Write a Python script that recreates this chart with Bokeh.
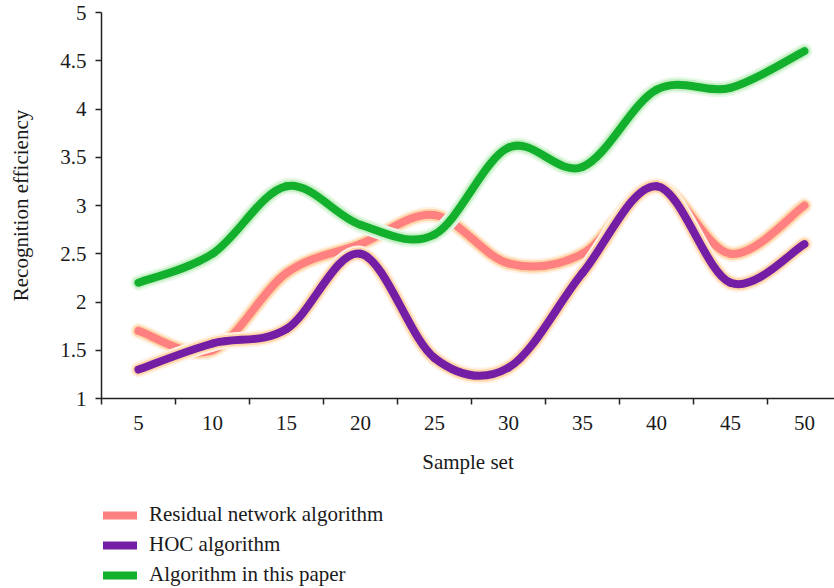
from bokeh.plotting import figure
from bokeh.layouts import column
from bokeh.models import Range1d, FixedTicker, Legend, LegendItem
from bokeh.embed import file_html
from bokeh.resources import INLINE

# ---- data ----
sample_set = [5, 10, 15, 20, 25, 30, 35, 40, 45, 50]
residual_network = [1.7, 1.5, 2.3, 2.6, 2.9, 2.4, 2.5, 3.2, 2.5, 3.0]
hoc_algorithm = [1.3, 1.57, 1.72, 2.5, 1.42, 1.32, 2.3, 3.2, 2.2, 2.6]
this_paper = [2.2, 2.5, 3.2, 2.8, 2.7, 3.6, 3.4, 4.2, 4.22, 4.6]
series_names = ["Residual network algorithm", "HOC algorithm", "Algorithm in this paper"]
y_ticks = [1, 1.5, 2, 2.5, 3, 3.5, 4, 4.5, 5]
y_tick_labels = ["1", "1.5", "2", "2.5", "3", "3.5", "4", "4.5", "5"]
x_tick_labels = ["5", "10", "15", "20", "25", "30", "35", "40", "45", "50"]

FONT = "Liberation Serif"
FS = "21px"


def smooth_segments(xs, ys):
    """Catmull-Rom style Bezier control points for a smoothed line."""
    n = len(xs)
    d = dict(x0=[], y0=[], x1=[], y1=[], cx0=[], cy0=[], cx1=[], cy1=[])
    for i in range(n - 1):
        xp, yp = (xs[i - 1], ys[i - 1]) if i > 0 else (xs[i], ys[i])
        xn, yn = (xs[i + 2], ys[i + 2]) if i + 2 < n else (xs[i + 1], ys[i + 1])
        d["x0"].append(xs[i]); d["y0"].append(ys[i])
        d["x1"].append(xs[i + 1]); d["y1"].append(ys[i + 1])
        d["cx0"].append(xs[i] + (xs[i + 1] - xp) / 6.0)
        d["cy0"].append(ys[i] + (ys[i + 1] - yp) / 6.0)
        d["cx1"].append(xs[i + 1] - (xn - xs[i]) / 6.0)
        d["cy1"].append(ys[i + 1] - (yn - ys[i]) / 6.0)
    return d


step = sample_set[1] - sample_set[0]
p = figure(width=834, height=482,
           x_range=Range1d(sample_set[0] - step / 2, sample_set[-1] + 0.406 * step),
           y_range=Range1d(y_ticks[0], y_ticks[-1]),
           output_backend="svg", toolbar_location=None,
           min_border_top=12, min_border_left=101, min_border_right=0,
           min_border_bottom=84)
p.outline_line_color = None
p.xgrid.grid_line_color = None
p.ygrid.grid_line_color = None
p.background_fill_color = "white"
p.border_fill_color = "white"

# axes
xa = p.xaxis[0]
xa.ticker = FixedTicker(ticks=sample_set,
                        minor_ticks=[v - step / 2 for v in sample_set] + [sample_set[-1] + step / 2])
xa.major_label_overrides = {v: lab for v, lab in zip(sample_set, x_tick_labels)}
xa.major_tick_out = 0
xa.major_tick_in = 0
xa.minor_tick_out = 6
xa.minor_tick_in = 0
xa.minor_tick_line_color = "#222222"
xa.minor_tick_line_width = 1.5
xa.axis_line_color = "#222222"
xa.axis_line_width = 1.5
xa.major_label_standoff = 11
xa.axis_label = "Sample set"
xa.axis_label_standoff = 17
xa.axis_label_text_font_style = "normal"

ya = p.yaxis[0]
ya.ticker = FixedTicker(ticks=y_ticks, minor_ticks=[])
ya.major_label_overrides = {v: lab for v, lab in zip(y_ticks, y_tick_labels)}
ya.major_tick_out = 6
ya.major_tick_in = 0
ya.major_tick_line_color = "#222222"
ya.major_tick_line_width = 1.5
ya.axis_line_color = "#222222"
ya.axis_line_width = 1.5
ya.major_label_standoff = 9
ya.axis_label = "Recognition efficiency"
ya.axis_label_standoff = 24
ya.axis_label_text_font_style = "normal"

for ax in (xa, ya):
    ax.major_label_text_font = FONT
    ax.major_label_text_font_size = FS
    ax.major_label_text_color = "#1a1a1a"
    ax.axis_label_text_font = FONT
    ax.axis_label_text_font_size = FS
    ax.axis_label_text_color = "#1a1a1a"

colors = ["#FF8080", "#731EA5", "#12B02C"]
glow_outer = ["#FFF2E4", "#FFF2E4", "#E8F9E8"]
glow_inner = ["#FFD6A8", "#FFD6A8", "#C8F0C8"]
series = [residual_network, hoc_algorithm, this_paper]

for ys, c, go, gi in zip(series, colors, glow_outer, glow_inner):
    seg = smooth_segments(sample_set, ys)
    p.bezier(x0="x0", y0="y0", x1="x1", y1="y1", cx0="cx0", cy0="cy0",
             cx1="cx1", cy1="cy1", source=seg, line_color=go, line_width=16,
             line_cap="round")
    p.bezier(x0="x0", y0="y0", x1="x1", y1="y1", cx0="cx0", cy0="cy0",
             cx1="cx1", cy1="cy1", source=seg, line_color=gi, line_width=12,
             line_cap="round")
    p.bezier(x0="x0", y0="y0", x1="x1", y1="y1", cx0="cx0", cy0="cy0",
             cx1="cx1", cy1="cy1", source=seg, line_color=c, line_width=8,
             line_cap="round")

# ---- legend panel ----
lp = figure(width=834, height=106, x_range=Range1d(0, 1), y_range=Range1d(0, 1),
            output_backend="svg", toolbar_location=None,
            x_axis_location=None, y_axis_location=None,
            min_border=0, min_border_left=0, min_border_right=0,
            min_border_top=0, min_border_bottom=0)
lp.grid.visible = False
lp.outline_line_color = None
lp.background_fill_color = "white"
lp.border_fill_color = "white"

nan = float("nan")
items = []
for n, c in zip(series_names, colors):
    r = lp.line(x=[nan, nan], y=[nan, nan], line_color=c, line_width=8, line_cap="round")
    items.append(LegendItem(label=n, renderers=[r]))

legend = Legend(items=items, location=(2, 1), orientation="vertical")
legend.border_line_color = None
legend.background_fill_alpha = 0
legend.label_text_font = FONT
legend.label_text_font_size = FS
legend.label_text_color = "#1a1a1a"
legend.glyph_width = 34
legend.glyph_height = 20
legend.label_height = 20
legend.spacing = 5
legend.label_standoff = 12
legend.padding = 0
legend.margin = 0
lp.add_layout(legend, "center")

layout = column(p, lp, spacing=0)
open("out.html", "w").write(file_html(layout, INLINE))
